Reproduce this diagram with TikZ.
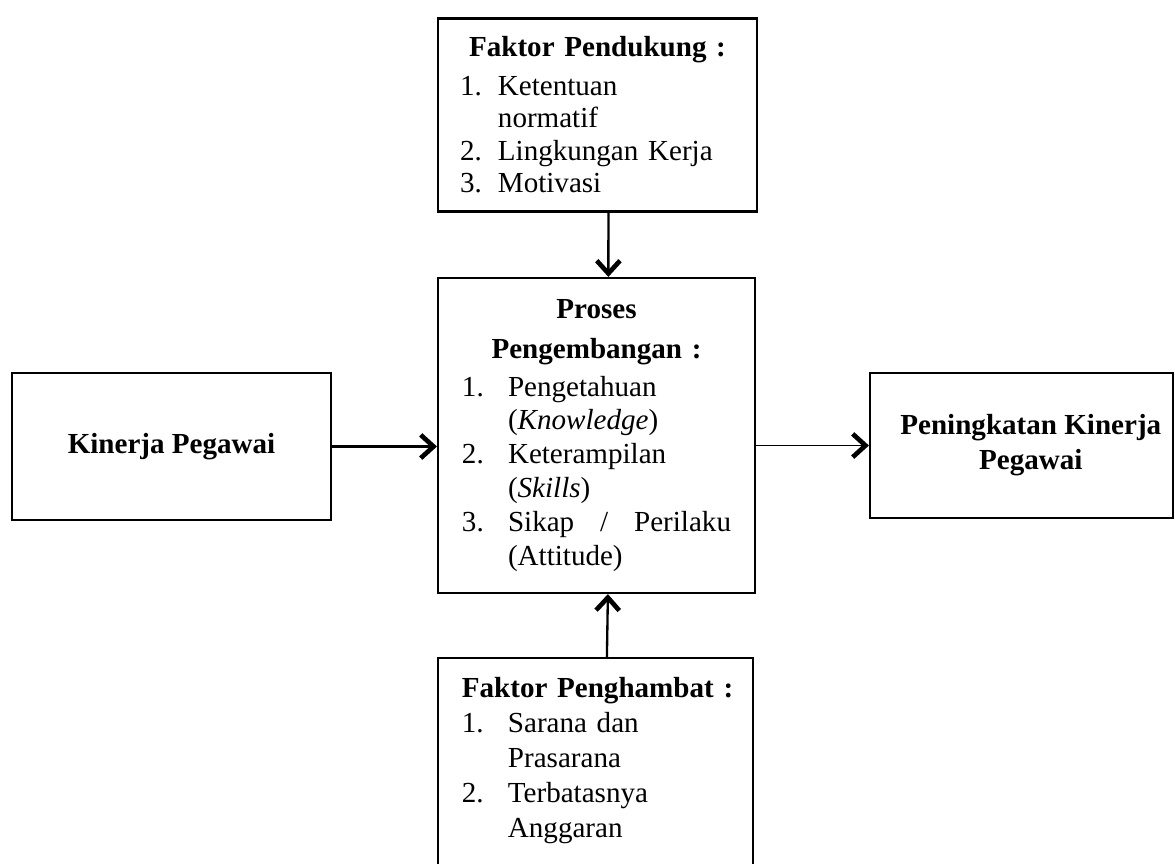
\documentclass[tikz,border=0pt]{standalone}
\usepackage{fontspec}
\setmainfont{Liberation Serif}
\usetikzlibrary{arrows.meta}

\newcommand{\nomor}[2]{\makebox[#1][l]{#2}}

\begin{document}
\begin{tikzpicture}[x=0.43pt,y=-0.43pt,
	kotak/.style={draw,line width=0.9pt,inner sep=0pt,align=left,font=\fontsize{12.5}{14.6}\selectfont},
	judul/.style={kotak,align=center,font=\fontsize{12.5}{15}\selectfont\bfseries},
	panah/.style={line width=1pt,-{Straight Barb[length=5.5pt,width=10pt,line width=2pt]}}]
	\useasboundingbox (0,0) rectangle (1175,863);

	% faktor pendukung
	\node[kotak,minimum width=137.2pt,minimum height=83pt,text width=118.2pt,
		font=\fontsize{12.5}{14}\selectfont] (dukung) at (597.5,115)
		{\makebox[118.2pt]{\textbf{Faktor Pendukung :}}\\[2.5pt]
		\nomor{16.3pt}{1.}Ketentuan\\
		\nomor{16.3pt}{}normatif\\
		\nomor{16.3pt}{2.}Lingkungan Kerja\\
		\nomor{16.3pt}{3.}Motivasi};

	% proses pengembangan
	\node[kotak,minimum width=136.3pt,minimum height=135.5pt,text width=115.7pt] (proses) at (596.5,435.5)
		{\makebox[115.7pt]{\textbf{Proses}}\\[2.6pt]
		\makebox[115.7pt]{\textbf{Pengembangan :}}\\[1.7pt]
		\nomor{19.8pt}{1.}Pengetahuan\\
		\nomor{19.8pt}{}(\textit{Knowledge})\\
		\nomor{19.8pt}{2.}Keterampilan\\
		\nomor{19.8pt}{}(\textit{Skills})\\
		\nomor{19.8pt}{3.}\makebox[95.9pt][s]{Sikap\hfill/\hfill Perilaku}\\
		\nomor{19.8pt}{}(Attitude)};

	% faktor penghambat
	\node[kotak,anchor=north,minimum width=135.5pt,minimum height=96pt,text width=114.9pt,
		font=\fontsize{12.5}{15}\selectfont] (hambat) at (595.5,657)
		{\makebox[114.9pt][l]{\textbf{Faktor Penghambat :}}\\
		\nomor{19.8pt}{1.}Sarana dan\\
		\nomor{19.8pt}{}Prasarana\\
		\nomor{19.8pt}{2.}Terbatasnya\\
		\nomor{19.8pt}{}Anggaran\rule[-10.5pt]{0pt}{1pt}};

	\node[judul,minimum width=137.2pt,minimum height=63.2pt] (kinerja) at (171.5,446.5) {Kinerja Pegawai};
	\node[judul,minimum width=130.3pt,minimum height=62.4pt] (hasil) at (1021.5,445.5) {\hspace*{8pt}Peningkatan Kinerja\\\hspace*{8pt}Pegawai};

	\draw[panah] ([xshift=4.7pt]dukung.south) -- ([xshift=5.1pt]proses.north);
	\draw[panah] ([xshift=4.9pt]hambat.north) -- ([xshift=4.9pt]proses.south);
	\draw[panah] (kinerja.east) -- (kinerja.east -| proses.west);
	\draw[panah,line width=0.7pt] (proses.east |- hasil.west) -- (hasil.west);
\end{tikzpicture}
\end{document}
